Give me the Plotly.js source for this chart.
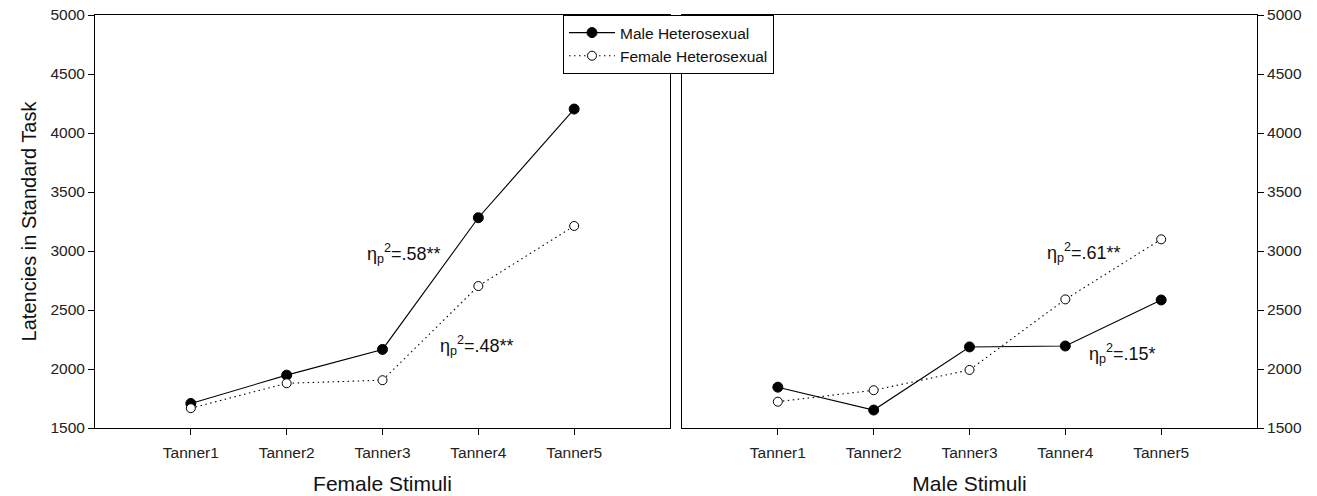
<!DOCTYPE html>
<html>
<head>
<meta charset="utf-8">
<script src="https://cdn.plot.ly/plotly-3.0.1.min.js"></script>
<style>html,body{margin:0;padding:0;background:#fff;}#chart{width:1317px;height:496px;}</style>
</head>
<body>
<div id="chart"></div>
<script>
const categories = ["Tanner1", "Tanner2", "Tanner3", "Tanner4", "Tanner5"];
const categoryPositions = [1, 2, 3, 4, 5];
const femaleStimuliMaleHetero = [1708, 1948, 2166, 3282, 4203];
const femaleStimuliFemaleHetero = [1668, 1879, 1905, 2703, 3212];
const maleStimuliMaleHetero = [1846, 1652, 2187, 2195, 2585];
const maleStimuliFemaleHetero = [1723, 1820, 1992, 2590, 3099];
const seriesNames = ["Male Heterosexual", "Female Heterosexual"];
const panelTitles = ["Female Stimuli", "Male Stimuli"];
const yTitle = "Latencies in Standard Task";
const yTicks = [1500, 2000, 2500, 3000, 3500, 4000, 4500, 5000];
const effectLabels = ["η<sub>p</sub><sup>2</sup>=.58**", "η<sub>p</sub><sup>2</sup>=.48**", "η<sub>p</sub><sup>2</sup>=.61**", "η<sub>p</sub><sup>2</sup>=.15*"];

const FONT = "Liberation Sans, Arial, Helvetica, sans-serif";
const maleStyle = {mode: "lines+markers", line: {color: "#000", width: 1.1, dash: "solid"},
  marker: {symbol: "circle", size: 10, color: "#000", line: {color: "#000", width: 1}}};
const femaleStyle = {mode: "lines+markers", line: {color: "#000", width: 1.1, dash: "1.5px,3.5px"},
  marker: {symbol: "circle", size: 9, color: "#fff", line: {color: "#000", width: 1}}};

const traces = [
  Object.assign({x: categoryPositions, y: femaleStimuliMaleHetero, name: seriesNames[0], xaxis: "x", yaxis: "y", showlegend: true}, maleStyle),
  Object.assign({x: categoryPositions, y: femaleStimuliFemaleHetero, name: seriesNames[1], xaxis: "x", yaxis: "y", showlegend: true}, femaleStyle),
  Object.assign({x: categoryPositions, y: maleStimuliMaleHetero, name: seriesNames[0], xaxis: "x2", yaxis: "y2", showlegend: false}, maleStyle),
  Object.assign({x: categoryPositions, y: maleStimuliFemaleHetero, name: seriesNames[1], xaxis: "x2", yaxis: "y2", showlegend: false}, femaleStyle)
];

function xAxis(domain, title, anchor) {
  return {domain: domain, anchor: anchor, range: [0, 6], tickvals: categoryPositions, ticktext: categories,
    showgrid: false, zeroline: false, showline: true, linecolor: "#000", linewidth: 1, mirror: true,
    ticks: "outside", ticklen: 6, tickcolor: "#000", tickwidth: 1, ticklabelstandoff: 4,
    tickfont: {family: FONT, size: 15.5, color: "#222"},
    title: {text: title, font: {family: FONT, size: 21, color: "#111"}, standoff: 16}, fixedrange: true};
}
function yAxis(side, anchor, withTitle) {
  return {anchor: anchor, side: side, range: [1500, 5000], tickvals: yTicks,
    showgrid: false, zeroline: false, showline: true, linecolor: "#000", linewidth: 1, mirror: true,
    ticks: "outside", ticklen: 6, tickcolor: "#000", tickwidth: 1,
    tickfont: {family: FONT, size: 15.5, color: "#222"},
    title: withTitle ? {text: yTitle, font: {family: FONT, size: 20, color: "#111"}, standoff: 8} : {text: ""},
    fixedrange: true};
}

const L = 95, R = 1257, T = 15, B = 428;
const px = v => (v - L) / (R - L);
const py = v => (B - v) / (B - T);

const annotations = [
  {text: effectLabels[0], x: px(365), y: py(253)},
  {text: effectLabels[1], x: px(438), y: py(345)},
  {text: effectLabels[2], x: px(1045), y: py(252)},
  {text: effectLabels[3], x: px(1087), y: py(353)}
].map(a => Object.assign({xref: "paper", yref: "paper", xanchor: "left", yanchor: "middle", showarrow: false,
  font: {family: FONT, size: 18, color: "#111"}}, a));

const layout = {
  width: 1317, height: 496,
  margin: {l: L, r: 1317 - R, t: T, b: 496 - B, pad: 0},
  paper_bgcolor: "#fff", plot_bgcolor: "#fff",
  xaxis: xAxis([0, px(670)], panelTitles[0], "y"),
  yaxis: yAxis("left", "x", true),
  xaxis2: xAxis([px(682), 1], panelTitles[1], "y2"),
  yaxis2: yAxis("right", "x2", false),
  showlegend: true,
  legend: {x: px(563), y: 1, xanchor: "left", yanchor: "top", bgcolor: "#fff", bordercolor: "#000", borderwidth: 1,
    font: {family: FONT, size: 15.5, color: "#111"}, tracegroupgap: 0, itemwidth: 46},
  annotations: annotations
};

Plotly.newPlot("chart", traces, layout, {displayModeBar: false, staticPlot: true});
</script>
</body>
</html>
